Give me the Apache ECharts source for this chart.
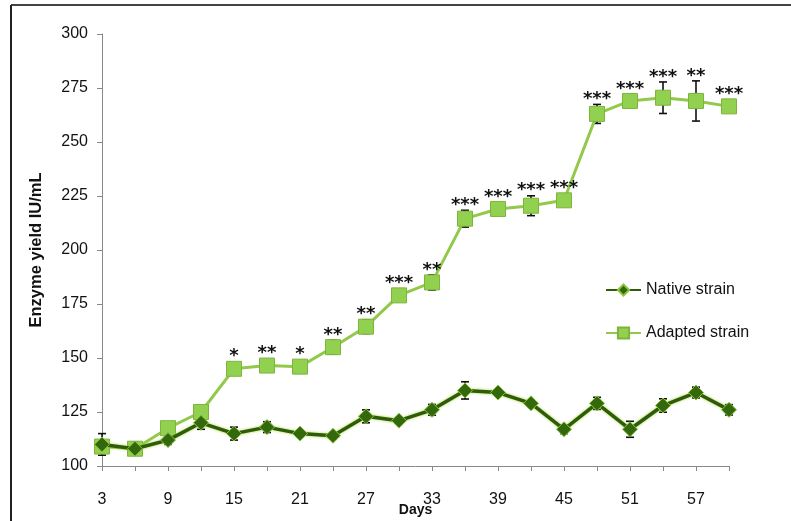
<!DOCTYPE html>
<html>
<head>
<meta charset="utf-8">
<title>Enzyme yield</title>
<script src="https://cdn.jsdelivr.net/npm/echarts@6/dist/echarts.min.js"></script>
<style>
  html, body { margin: 0; padding: 0; background: #fff; }
  #chart { width: 791px; height: 521px; }
</style>
</head>
<body>
<div id="chart"></div>
<script>
// Sampling days
const days = ['3','6','9','12','15','18','21','24','27','30','33','36','39','42','45','48','51','54','57','60'];

// Native strain: mean yield (IU/mL) and error
const nativeYield = [110, 108, 112, 120, 115, 118, 115, 114, 123, 121, 126, 135, 134, 129, 117, 129, 117, 128, 134, 126];
const nativeErr   = [5, 3, 2, 3, 3, 2.5, 1.5, 1.5, 3, 1.5, 2.5, 4, 1.5, 1.5, 2, 2.8, 3.7, 3.1, 2.5, 2.4];

// Adapted strain: mean yield (IU/mL) and error
const adaptedYield = [109, 108, 117.5, 125, 145, 146.5, 146, 155, 164.5, 179, 185, 214.5, 219, 220.5, 223, 263, 269, 270.5, 269, 266.5];
const adaptedErr   = [0, 1, 1, 1, 1, 1.5, 1, 3.2, 3.2, 1, 3.5, 3.9, 1.5, 4.6, 1, 4.4, 1, 7.3, 9.3, 1];

// Significance marks for adapted vs native
const significance = ['', '', '', '', '*', '**', '*', '**', '**', '***', '**', '***', '***', '***', '***', '***', '***', '***', '**', '***'];

const yTicks = { min: 100, max: 300, step: 25 };

const chart = echarts.init(document.getElementById('chart'));

function errorData(vals, errs) {
  return vals.map((v, i) => [i, v - errs[i], v + errs[i]]);
}

function renderErrorBar(params, api) {
  const lo = api.coord([api.value(0), api.value(1)]);
  const hi = api.coord([api.value(0), api.value(2)]);
  const cap = 4;
  const style = { stroke: '#111', lineWidth: 1.6 };
  return {
    type: 'group',
    children: [
      { type: 'line', shape: { x1: lo[0], y1: lo[1], x2: hi[0], y2: hi[1] }, style },
      { type: 'line', shape: { x1: lo[0] - cap, y1: lo[1], x2: lo[0] + cap, y2: lo[1] }, style },
      { type: 'line', shape: { x1: hi[0] - cap, y1: hi[1], x2: hi[0] + cap, y2: hi[1] }, style }
    ]
  };
}

function renderSignificance(params, api) {
  const i = params.dataIndex;
  const text = significance[i];
  if (!text) return null;
  const pt = api.coord([i, adaptedYield[i]]);
  const top = api.coord([i, adaptedYield[i] + adaptedErr[i]]);
  const y = Math.min(pt[1] - 17, top[1] - 10);
  return {
    type: 'text',
    style: {
      text: text,
      x: pt[0],
      y: y + 5,
      align: 'center',
      verticalAlign: 'middle',
      font: 'bold 18px "DejaVu Sans"',
      fill: '#111'
    }
  };
}

chart.setOption({
  animation: false,
  backgroundColor: '#fff',
  textStyle: { fontFamily: '"Liberation Sans", Arial, sans-serif' },
  grid: { left: 102, right: 62, top: 34, bottom: 55, containLabel: false, outerBoundsMode: 'none' },
  legend: {
    orient: 'vertical',
    left: 600,
    top: 277,
    itemWidth: 35,
    itemHeight: 14,
    itemGap: 27,
    textStyle: { fontSize: 16, color: '#111' },
    data: ['Native strain', 'Adapted strain']
  },
  xAxis: {
    type: 'category',
    data: days,
    boundaryGap: false,
    name: 'Days',
    nameLocation: 'middle',
    nameGap: 37,
    nameMoveOverlap: false,
    nameTextStyle: { fontSize: 14, fontWeight: 'bold', color: '#111' },
    axisLine: { lineStyle: { color: '#888', width: 1 } },
    axisTick: { show: true, interval: 0, length: 5, lineStyle: { color: '#888' } },
    axisLabel: { interval: 1, fontSize: 16, color: '#111', margin: 26 },
    splitLine: { show: false }
  },
  yAxis: {
    type: 'value',
    min: yTicks.min,
    max: yTicks.max,
    interval: yTicks.step,
    name: 'Enzyme yield IU/mL',
    nameLocation: 'middle',
    nameGap: 57,
    nameMoveOverlap: false,
    nameTextStyle: { fontSize: 16.5, fontWeight: 'bold', color: '#111' },
    axisLine: { show: true, lineStyle: { color: '#888', width: 1 } },
    axisTick: { show: true, length: 5, lineStyle: { color: '#888' } },
    axisLabel: { fontSize: 16, color: '#111', margin: 14 },
    splitLine: { show: false }
  },
  graphic: [
    { type: 'line', shape: { x1: 11, y1: 5, x2: 791, y2: 5 }, style: { stroke: '#444', lineWidth: 2 }, z: 100 },
    { type: 'line', shape: { x1: 11, y1: 5, x2: 11, y2: 521 }, style: { stroke: '#222', lineWidth: 2 }, z: 100 }
  ],
  series: [
    {
      name: 'Native err',
      type: 'custom',
      renderItem: renderErrorBar,
      data: errorData(nativeYield, nativeErr),
      z: 1,
      silent: true
    },
    {
      name: 'Adapted err',
      type: 'custom',
      renderItem: renderErrorBar,
      data: errorData(adaptedYield, adaptedErr),
      z: 1,
      silent: true
    },
    {
      name: 'Adapted strain',
      type: 'line',
      data: adaptedYield,
      symbol: 'rect',
      symbolSize: 15,
      z: 3,
      lineStyle: { color: '#92c94a', width: 3 },
      itemStyle: { color: '#92d050', borderColor: '#7fb43c', borderWidth: 1 }
    },
    {
      name: 'Native strain',
      type: 'line',
      data: nativeYield,
      symbol: 'diamond',
      symbolSize: 15,
      z: 4,
      lineStyle: { color: '#2f5c08', width: 3.5, shadowColor: '#a5d23e', shadowBlur: 3 },
      itemStyle: { color: '#33690c', borderColor: '#8cc43c', borderWidth: 1 }
    },
    {
      name: 'Significance',
      type: 'custom',
      renderItem: renderSignificance,
      data: adaptedYield.map((v, i) => [i, v]),
      z: 5,
      silent: true
    }
  ]
});
</script>
</body>
</html>
